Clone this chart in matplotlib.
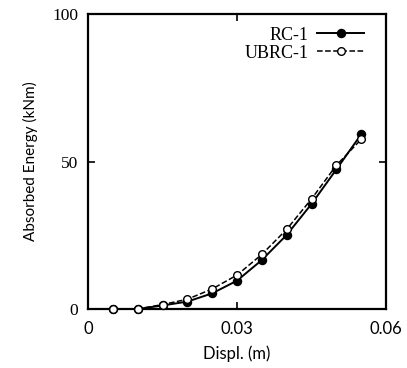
import matplotlib
matplotlib.use("Agg")
import matplotlib.pyplot as plt

displ = [0.005, 0.010, 0.015, 0.020, 0.025, 0.030, 0.035, 0.040, 0.045, 0.050, 0.055]
rc1 = [0.0, 0.0, 1.2, 2.5, 5.3, 9.6, 16.6, 25.1, 35.6, 47.3, 59.2]
ubrc1 = [0.0, 0.0, 1.5, 3.3, 6.8, 11.5, 18.5, 27.0, 37.3, 48.7, 57.5]
xticks = [0, 0.03, 0.06]
xticklabels = ["0", "0.03", "0.06"]
yticks = [0, 50, 100]
yticklabels = ["0", "50", "100"]

fig = plt.figure(figsize=(4.07, 3.68), dpi=100)
ax = fig.add_axes([88/407, 1-309/368, (386-88)/407, (309-14)/368])

ax.plot(displ, rc1, '-', color='black', lw=1.4, marker='o', ms=5.8,
        mfc='black', mec='black', label='RC-1', clip_on=False, zorder=3)
ax.plot(displ, ubrc1, '--', color='black', lw=1.1, marker='o', ms=5.5,
        mfc='white', mec='black', mew=1.0, label='UBRC-1', clip_on=False, zorder=4)

ax.set_xlim(0, 0.06)
ax.set_ylim(0, 100)
ax.set_xticks(xticks)
ax.set_xticklabels(xticklabels, family='Lato', fontsize=12)
ax.set_yticks(yticks)
ax.set_yticklabels(yticklabels, family='Liberation Serif', fontsize=12.5)
ax.tick_params(axis='x', direction='in', top=True, length=5, width=1.2, pad=9)
ax.tick_params(axis='y', direction='in', right=True, length=5, width=1.2, pad=7)
for s in ax.spines.values():
    s.set_linewidth(1.6)

ax.set_xlabel('Displ. (m)', family='Lato', fontsize=12, labelpad=6)
ax.set_ylabel('Absorbed Energy (kNm)', family='Lato', fontsize=11, labelpad=10)

leg = ax.legend(loc='upper right', frameon=False, markerfirst=False,
                prop={'family': 'Liberation Serif', 'size': 13},
                handlelength=2.6, handletextpad=0.5, labelspacing=0.05,
                borderaxespad=0.3, bbox_to_anchor=(0.97, 1.0))
for t in leg.get_texts():
    t.set_ha('right')

fig.savefig('out.png', dpi=100)
